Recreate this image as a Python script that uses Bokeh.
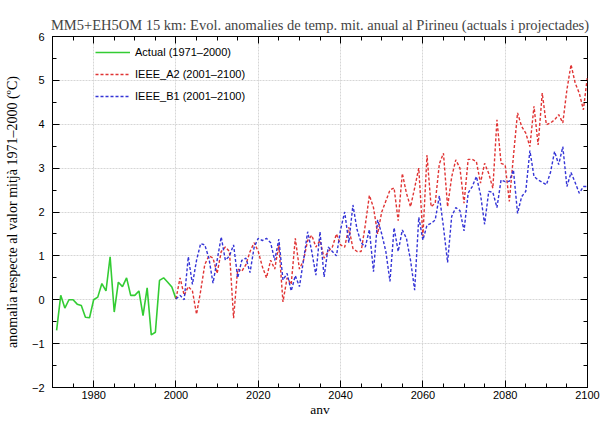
from bokeh.plotting import figure
from bokeh.models import (FixedTicker, LinearAxis, Range1d, Legend, LegendItem,
                          ColumnDataSource, CustomLabelingPolicy)
from bokeh.embed import file_html
from bokeh.resources import INLINE

title_text = "MM5+EH5OM 15 km: Evol. anomalies de temp. mit. anual al Pirineu (actuals i projectades)"
x_label = "anv"
y_label = "anomalia respecte al valor mitjà 1971–2000 (ºC)"

label_actual = "Actual (1971–2000)"
label_a2 = "IEEE_A2 (2001–2100)"
label_b1 = "IEEE_B1 (2001–2100)"

actual_years = list(range(1971, 2001))
actual_vals = [-0.70, 0.10, -0.19, 0.00, 0.00, -0.10, -0.13, -0.40, -0.41, 0.00,
               0.06, 0.37, 0.20, 0.98, -0.28, 0.40, 0.30, 0.50, 0.10, 0.10,
               0.20, -0.36, 0.27, -0.80, -0.74, 0.44, 0.50, 0.40, 0.29, 0.02]

proj_years = list(range(2000, 2101))
a2_vals = [0.02,
           0.50, 0.10, 0.30, 0.20, -0.33, 0.20, 0.80, 1.00, 0.95, 0.60,
           1.10, 1.20, 1.10, -0.42, 0.70, 0.65, 0.80, 1.10, 1.30, 1.10,
           0.75, 0.50, 0.90, 0.70, 1.25, -0.05, 0.50, 0.35, 1.40, 0.70,
           0.90, 1.35, 1.47, 1.20, 1.35, 0.95, 1.10, 1.20, 1.50, 1.25,
           1.20, 1.65, 1.17, 1.10, 1.10, 1.70, 2.38, 2.10, 1.50, 2.00,
           2.25, 2.50, 2.55, 1.80, 2.88, 2.43, 2.12, 2.55, 3.00, 1.45,
           3.30, 2.12, 2.20, 3.10, 3.34, 2.12, 2.80, 3.19, 3.00, 2.20,
           3.20, 3.20, 3.15, 2.66, 3.11, 2.88, 2.54, 4.10, 3.11, 3.07,
           2.24, 3.27, 4.26, 3.95, 3.80, 3.49, 4.41, 3.53, 4.71, 3.99,
           4.03, 4.10, 4.22, 4.03, 4.79, 5.36, 4.94, 4.71, 4.33, 5.10]
b1_vals = [0.02,
           0.10, 0.00, 0.98, 0.35, 0.90, 1.28, 1.25, 0.95, 0.38, 0.90,
           1.43, 0.90, 1.00, 1.25, 0.50, 0.90, 0.95, 0.62, 1.20, 1.40,
           1.35, 1.40, 1.30, 0.90, 1.38, 0.45, 0.60, 0.20, 0.55, 0.30,
           0.90, 1.55, 1.10, 0.56, 1.55, 0.52, 1.20, 1.10, 1.00, 1.60,
           2.00, 1.30, 2.16, 1.60, 1.30, 1.20, 1.60, 0.64, 1.82, 1.50,
           1.10, 0.42, 1.64, 1.10, 1.59, 1.40, 0.90, 0.22, 1.88, 1.36,
           1.70, 1.74, 1.82, 2.37, 1.66, 0.85, 1.90, 2.10, 2.03, 1.57,
           2.43, 2.58, 2.81, 2.40, 1.72, 2.47, 2.45, 2.10, 2.73, 2.69,
           2.70, 2.96, 1.97, 2.35, 2.47, 3.40, 2.81, 2.73, 2.68, 2.62,
           2.90, 3.38, 3.08, 3.49, 2.58, 2.90, 2.67, 2.43, 2.58, 2.58]

x_major = [1980, 2000, 2020, 2040, 2060, 2080, 2100]
x_minor = list(range(1970, 2101, 5))
y_major = [-2, -1, 0, 1, 2, 3, 4, 5, 6]
y_minor = [v * 0.5 for v in range(-4, 13)]

p = figure(width=602, height=421, output_backend="svg", toolbar_location=None,
           x_range=Range1d(1970, 2100), y_range=Range1d(-2, 6),
           min_border_left=52, min_border_right=15, min_border_top=36, min_border_bottom=34)

p.title.text = title_text
p.title.text_font = "Liberation Serif"
p.title.text_font_size = "14.5px"
p.title.text_font_style = "normal"
p.title.align = "center"
p.title.standoff = 8

p.outline_line_color = "black"
p.outline_line_width = 1
p.outline_line_alpha = 1

def style_axis(ax, ticks, minor):
    ax.ticker = FixedTicker(ticks=ticks, minor_ticks=minor)
    ax.axis_line_color = None
    ax.major_tick_in = 7
    ax.major_tick_out = 0
    ax.minor_tick_in = 4
    ax.minor_tick_out = 0
    ax.major_tick_line_color = "black"
    ax.minor_tick_line_color = "black"
    ax.major_label_text_font = "Liberation Sans"
    ax.major_label_text_font_size = "11px"
    ax.major_label_text_color = "black"
    ax.axis_label_text_font = "Liberation Serif"
    ax.axis_label_text_font_size = "14px"
    ax.axis_label_text_font_style = "normal"
    ax.axis_label_text_color = "black"

hide_labels = CustomLabelingPolicy(code="""
const n = indices.size;
for (let i = 0; i < n; i++) { indices.unset(i); }
return indices;
""")

xa = p.xaxis[0]
style_axis(xa, x_major, x_minor)
xa.axis_label = x_label
xa.axis_label_text_font_size = "13.5px"
xa.major_label_standoff = 3
xa.axis_label_standoff = 0

ya = p.yaxis[0]
style_axis(ya, y_major, y_minor)
ya.axis_label = y_label
ya.major_label_standoff = 8
ya.axis_label_standoff = 9

top_ax = LinearAxis()
style_axis(top_ax, x_major, x_minor)
top_ax.major_label_policy = hide_labels
top_ax.major_label_text_font_size = "0px"
top_ax.major_label_standoff = 0
p.add_layout(top_ax, "above")

right_ax = LinearAxis()
style_axis(right_ax, y_major, y_minor)
right_ax.major_label_policy = hide_labels
right_ax.major_label_text_font_size = "0px"
right_ax.major_label_standoff = 0
p.add_layout(right_ax, "right")

p.xgrid.ticker = FixedTicker(ticks=x_major)
p.ygrid.ticker = FixedTicker(ticks=y_major)
for g in (p.xgrid[0], p.ygrid[0]):
    g.grid_line_color = "#d6d6d6"
    g.grid_line_width = 1
    g.grid_line_dash = "2 1"

src_actual = ColumnDataSource(dict(x=actual_years, y=actual_vals))
src_proj = ColumnDataSource(dict(x=proj_years, a2=a2_vals, b1=b1_vals))

r_act = p.line("x", "y", source=src_actual, line_color="#33cc33", line_width=1.6)
r_a2 = p.line("x", "a2", source=src_proj, line_color="#e03434", line_width=1.4, line_dash="3 2")
r_b1 = p.line("x", "b1", source=src_proj, line_color="#3434d6", line_width=1.4, line_dash="3 2")

legend = Legend(items=[LegendItem(label=label_actual, renderers=[r_act]),
                       LegendItem(label=label_a2, renderers=[r_a2]),
                       LegendItem(label=label_b1, renderers=[r_b1])],
                location=(43, 281), margin=0, padding=0, spacing=2,
                glyph_width=35, glyph_height=20, label_height=20, label_standoff=5,
                label_text_font="Liberation Sans", label_text_font_size="11px",
                label_text_color="black",
                background_fill_alpha=0, border_line_alpha=0)
p.add_layout(legend)

open("out.html", "w").write(file_html(p, INLINE))
